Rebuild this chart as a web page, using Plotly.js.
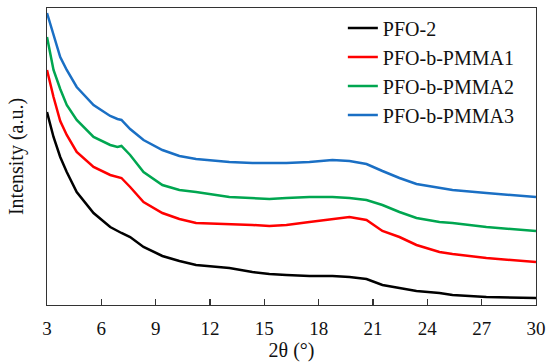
<!DOCTYPE html>
<html>
<head>
<meta charset="utf-8">
<script src="https://cdn.plot.ly/plotly-3.0.1.min.js"></script>
<style>html,body{margin:0;padding:0;background:#fff;font-family:"Liberation Serif";}#chart{width:550px;height:364px;}</style>
</head>
<body>
<div id="chart"></div>
<script>
const twoTheta = [3.0, 3.36, 3.73, 4.09, 4.64, 5.57, 6.49, 6.89, 7.11, 7.59, 8.33, 9.37, 10.31, 11.23, 13.07, 14.34, 15.28, 16.22, 17.49, 18.76, 19.70, 20.64, 21.52, 22.46, 23.40, 24.67, 25.39, 27.26, 30.0];
const pfo2 =   [193, 168, 148, 133, 113, 92, 78, 74, 72, 68, 58, 49, 44, 40, 37, 33, 31, 30, 29, 29, 28, 26, 20, 17, 14, 12, 10, 8, 7];
const pmma1 =  [235, 208, 184, 170, 153, 138, 130, 128, 127, 118, 103, 92, 86, 82, 81, 80, 79, 80, 83, 86, 88, 85, 74, 68, 60, 53, 51, 47, 43];
const pmma2 =  [268, 235, 216, 200, 185, 168, 160, 158, 159, 150, 133, 120, 115, 113, 108, 107, 106, 107, 108, 108, 107, 105, 100, 93, 87, 83, 82, 78, 74];
const pmma3 =  [292, 269, 248, 235, 218, 200, 189, 186, 185, 176, 165, 155, 149, 146, 143, 142, 142, 142, 143, 145, 144, 141, 134, 127, 121, 117, 115, 112, 108];
const seriesNames = ["PFO-2", "PFO-b-PMMA1", "PFO-b-PMMA2", "PFO-b-PMMA3"];
const seriesColors = ["#000000", "#ff0000", "#00a650", "#1a6fc4"];
const xTicks = [3, 6, 9, 12, 15, 18, 21, 24, 27, 30];

const data = [pfo2, pmma1, pmma2, pmma3].map((ys, i) => ({
  x: twoTheta, y: ys, type: "scatter", mode: "lines", name: seriesNames[i],
  line: {color: seriesColors[i], width: 2.5}
}));

const font = "Liberation Serif";
const layout = {
  width: 550, height: 364,
  margin: {l: 47, r: 14, t: 8, b: 59},
  paper_bgcolor: "#fff", plot_bgcolor: "#fff",
  font: {family: font, color: "#111", size: 19},
  showlegend: true,
  legend: {x: 0.605, y: 0.998, xanchor: "left", yanchor: "top", bgcolor: "rgba(0,0,0,0)",
           font: {family: font, size: 20, color: "#111"}, itemwidth: 30, tracegroupgap: 0},
  xaxis: {range: [3, 30], tickvals: xTicks, ticktext: xTicks.map(String), ticks: "inside", ticklen: 6,
          tickcolor: "#333", tickwidth: 1.3, showline: true, linecolor: "#333", linewidth: 1.3, mirror: true,
          showgrid: false, zeroline: false, ticklabelstandoff: 6, tickfont: {family: font, size: 19, color: "#111"},
          title: {text: "2θ (°)", font: {family: font, size: 20, color: "#111"}, standoff: 2}},
  yaxis: {range: [0, 297], showticklabels: false, ticks: "", showline: true, linecolor: "#333", linewidth: 1.3,
          mirror: true, showgrid: false, zeroline: false,
          title: {text: "Intensity (a.u.)", font: {family: font, size: 20, color: "#111"}, standoff: 16}}
};
Plotly.newPlot("chart", data, layout, {displayModeBar: false, staticPlot: true});
</script>
</body>
</html>
